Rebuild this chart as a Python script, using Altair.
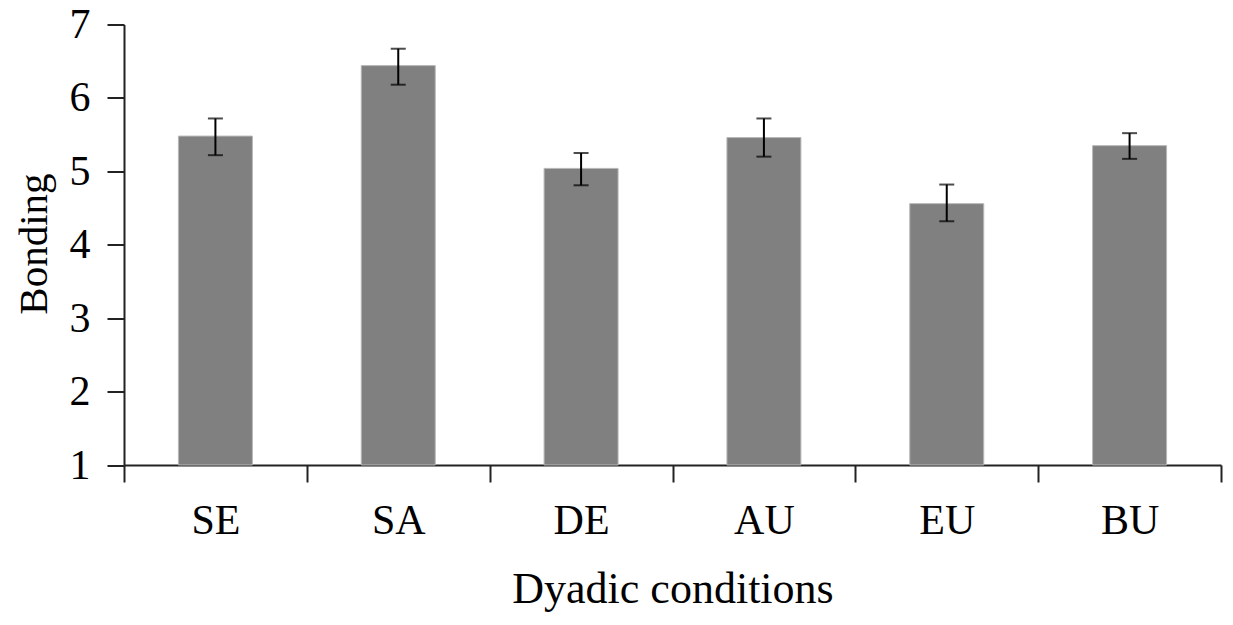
import altair as alt
import pandas as pd

conditions = ["SE", "SA", "DE", "AU", "EU", "BU"]
means = [5.48, 6.44, 5.04, 5.46, 4.56, 5.35]
err_lo = [5.22, 6.18, 4.81, 5.20, 4.32, 5.17]
err_hi = [5.72, 6.67, 5.25, 5.72, 4.82, 5.52]

df = pd.DataFrame({"cond": conditions, "mean": means, "lo": err_lo, "hi": err_hi})

FONT = "Liberation Serif"

xaxis = alt.Axis(
    title="Dyadic conditions",
    labelAngle=0,
    tickBand="extent",
    tickSize=17,
    tickWidth=2,
    tickColor="#222222",
    domainColor="#222222",
    domainWidth=2,
    labelFont=FONT,
    labelFontSize=42,
    labelColor="black",
    labelPadding=18,
    titleFont=FONT,
    titleFontSize=44,
    titleFontWeight="normal",
    titleColor="black",
    titlePadding=26,
)
xscale = alt.Scale(paddingInner=0, paddingOuter=0)

yscale = alt.Scale(domain=[1, 7], zero=False, nice=False)
yaxis = alt.Axis(
    title="Bonding",
    values=[1, 2, 3, 4, 5, 6, 7],
    format="d",
    grid=False,
    tickSize=17,
    tickWidth=2,
    tickColor="#222222",
    domainColor="#222222",
    domainWidth=2,
    labelFont=FONT,
    labelFontSize=42,
    labelColor="black",
    labelPadding=17,
    titleFont=FONT,
    titleFontSize=41,
    titleFontWeight="normal",
    titleColor="black",
    titleX=-90,
    titleY=219,
    titleAlign="center",
    titleBaseline="middle",
    titleAngle=270,
)


def X():
    return alt.X("cond:N", sort=conditions, scale=xscale, axis=xaxis)


base = alt.Chart(df)

bars = base.mark_bar(color="#808080", stroke="#b8b8b8", strokeWidth=1, size=74).encode(
    x=X(),
    y=alt.Y("mean:Q", scale=yscale, axis=yaxis, title="Bonding"),
    y2=alt.datum(1),
)

rule = base.mark_rule(color="black", strokeWidth=2).encode(
    x=X(),
    y=alt.Y("lo:Q", scale=yscale, axis=yaxis, title="Bonding"),
    y2="hi:Q",
)

cap_lo = base.mark_tick(color="black", size=15, thickness=2, orient="horizontal").encode(
    x=X(),
    y=alt.Y("lo:Q", scale=yscale, axis=yaxis, title="Bonding"),
)
cap_hi = base.mark_tick(color="black", size=15, thickness=2, orient="horizontal").encode(
    x=X(),
    y=alt.Y("hi:Q", scale=yscale, axis=yaxis, title="Bonding"),
)

chart = (
    alt.layer(bars, rule, cap_lo, cap_hi)
    .properties(
        width=1097,
        height=440.5,
        autosize=alt.AutoSizeParams(type="none"),
        padding={"left": 116, "top": 16.5, "right": 4, "bottom": 150},
        background="white",
    )
    .configure_view(stroke=None)
)

chart.save("out.html", embed_options={"renderer": "svg", "actions": False})
